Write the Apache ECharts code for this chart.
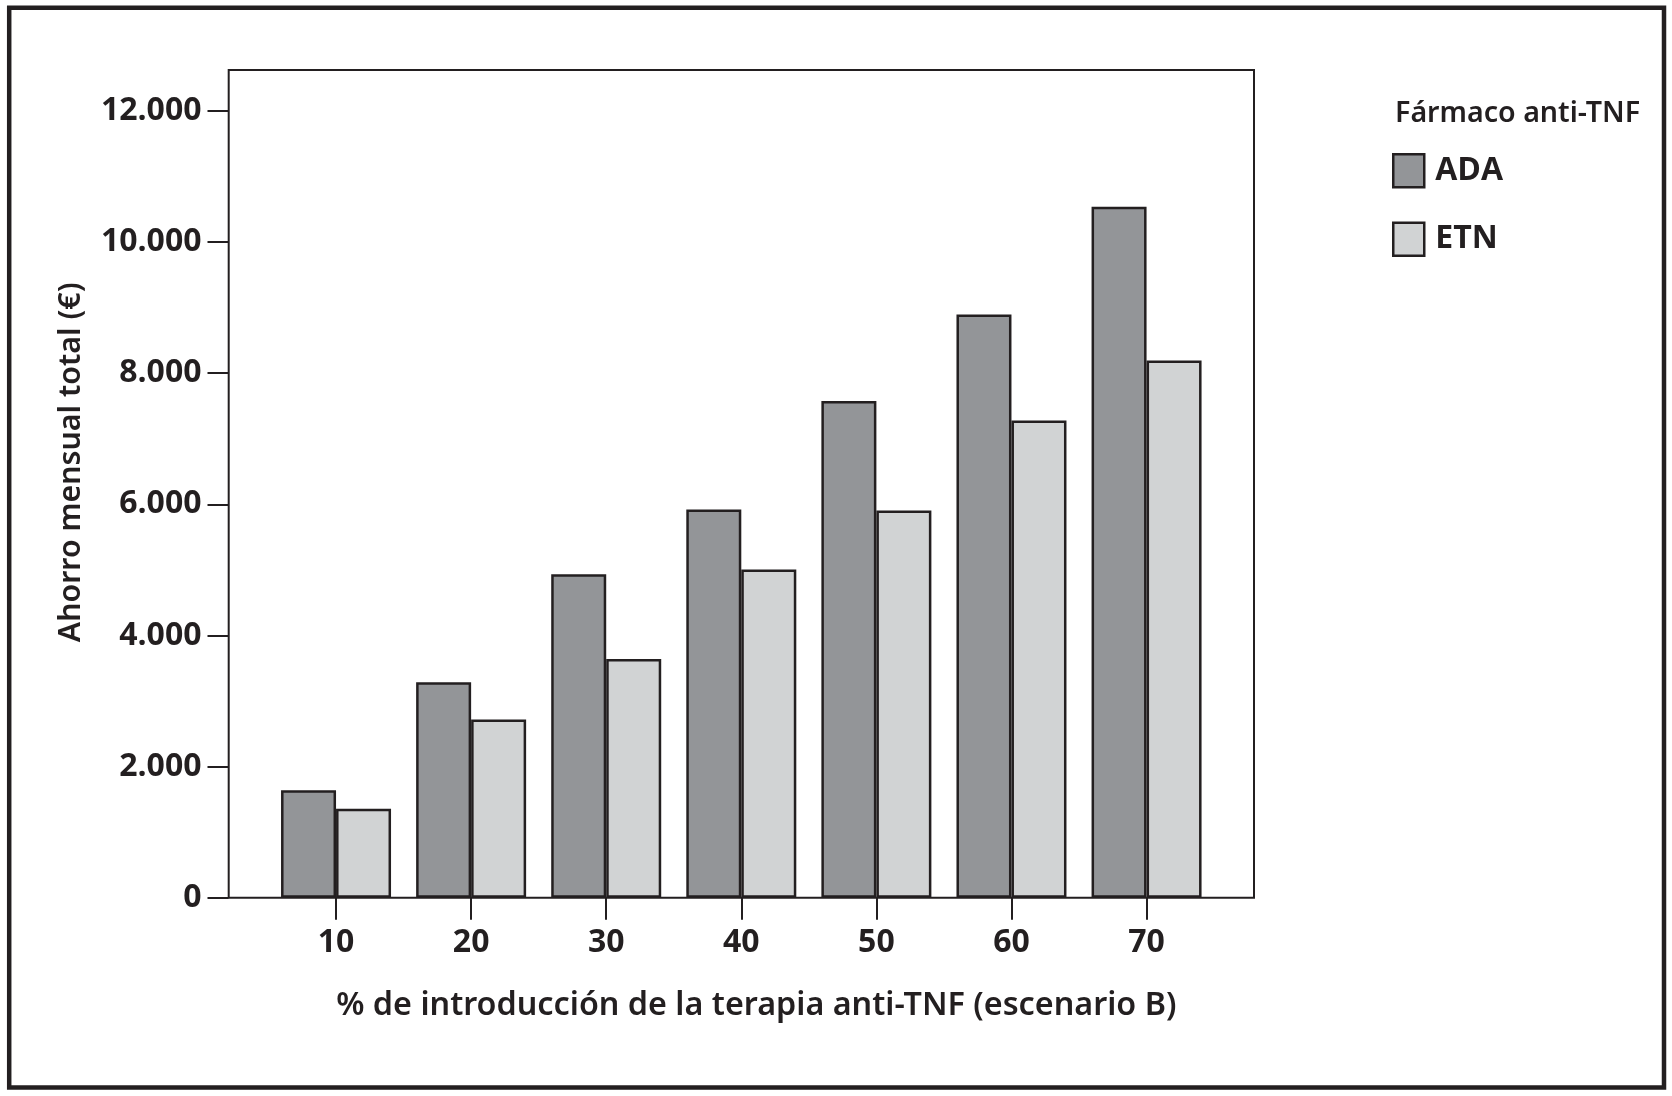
<!DOCTYPE html>
<html>
<head>
<meta charset="utf-8">
<script src="https://cdn.jsdelivr.net/npm/echarts@6/dist/echarts.min.js"></script>
<style>
html,body{margin:0;padding:0;background:#fff;}
#chart{width:1672px;height:1096px;}
</style>
</head>
<body>
<div id="chart"></div>
<script>
// ---- data ----
const categories = ['10', '20', '30', '40', '50', '60', '70'];
const adaValues = [1640, 3285, 4935, 5920, 7575, 8895, 10540];
const etnValues = [1355, 2720, 3640, 5005, 5905, 7280, 8195];
const seriesNames = ['ADA', 'ETN'];
const yTickValues = [0, 2000, 4000, 6000, 8000, 10000, 12000];
const xTitle = '% de introducción de la terapia anti-TNF (escenario B)';
const yTitle = 'Ahorro mensual total (€)';
const legendTitle = 'Fármaco anti-TNF';

// ---- styling ----
const INK = '#231f20';
const FONT = '"Open Sans", "Noto Sans", sans-serif';
const TFONT = '"Noto Sans", "Open Sans", sans-serif';
const ADA_COLOR = '#939598';
const ETN_COLOR = '#d1d3d4';

function fmtThousands(v) {
  return String(v).replace(/\B(?=(\d{3})+(?!\d))/g, '.');
}

const chart = echarts.init(document.getElementById('chart'), null, {renderer: 'canvas'});

const option = {
  backgroundColor: '#ffffff',
  animation: false,
  title: {
    text: legendTitle,
    left: 1395,
    top: 99,
    padding: 0,
    textStyle: {fontFamily: TFONT, fontSize: 28.6, fontWeight: 600, color: INK}
  },
  legend: {
    orient: 'vertical',
    left: 1392,
    top: 153,
    padding: 0,
    itemWidth: 31,
    itemHeight: 33,
    itemGap: 33,
    icon: 'rect',
    data: [
      {name: seriesNames[0], itemStyle: {color: ADA_COLOR, borderColor: INK, borderWidth: 2.5}},
      {name: seriesNames[1], itemStyle: {color: ETN_COLOR, borderColor: INK, borderWidth: 2.5}}
    ],
    textStyle: {fontFamily: FONT, fontSize: 32, fontWeight: 'bold', color: INK, padding: [0, 0, 0, 6]}
  },
  grid: {
    left: 268.5,
    width: 945.6,
    top: 111,
    height: 786.7,
    containLabel: false
  },
  xAxis: {
    type: 'category',
    data: categories,
    axisLine: {show: false},
    axisTick: {show: true, alignWithLabel: true, length: 22, lineStyle: {color: INK, width: 2}},
    axisLabel: {fontFamily: FONT, fontSize: 32, fontWeight: 'bold', color: INK, margin: 29},
    name: xTitle,
    nameLocation: 'middle',
    nameGap: 92,
    nameTextStyle: {fontFamily: TFONT, fontSize: 32.3, fontWeight: 600, color: INK, padding: [0, 0, 0, 30]}
  },
  yAxis: {
    type: 'value',
    min: 0,
    max: 12000,
    interval: 2000,
    offset: 40,
    splitLine: {show: false},
    axisLine: {show: false},
    axisTick: {show: true, length: 21, lineStyle: {color: INK, width: 2}},
    axisLabel: {
      fontFamily: FONT, fontSize: 32, fontWeight: 'bold', color: INK, margin: 27,
      customValues: yTickValues,
      formatter: function (v) { return fmtThousands(v); }
    },
    name: yTitle,
    nameLocation: 'middle',
    nameGap: 142,
    nameRotate: 90,
    nameTextStyle: {fontFamily: TFONT, fontSize: 30.3, fontWeight: 600, color: INK, padding: [0, 0, 0, 84]}
  },
  series: [
    {
      name: seriesNames[0],
      type: 'bar',
      data: adaValues,
      barWidth: 55,
      barGap: '0%',
      itemStyle: {color: ADA_COLOR, borderColor: INK, borderWidth: 2.5}
    },
    {
      name: seriesNames[1],
      type: 'bar',
      data: etnValues,
      barWidth: 55,
      barGap: '0%',
      itemStyle: {color: ETN_COLOR, borderColor: INK, borderWidth: 2.5}
    }
  ],
  graphic: [
    {
      type: 'rect',
      z: 100,
      silent: true,
      shape: {x: 228.7, y: 70, width: 1025.3, height: 827.7},
      style: {fill: null, stroke: INK, lineWidth: 2}
    },
    {
      type: 'rect',
      z: 100,
      silent: true,
      shape: {x: 9.2, y: 7.7, width: 1654.8, height: 1079.8},
      style: {fill: null, stroke: INK, lineWidth: 4.5}
    }
  ]
};

chart.setOption(option);
</script>
</body>
</html>
